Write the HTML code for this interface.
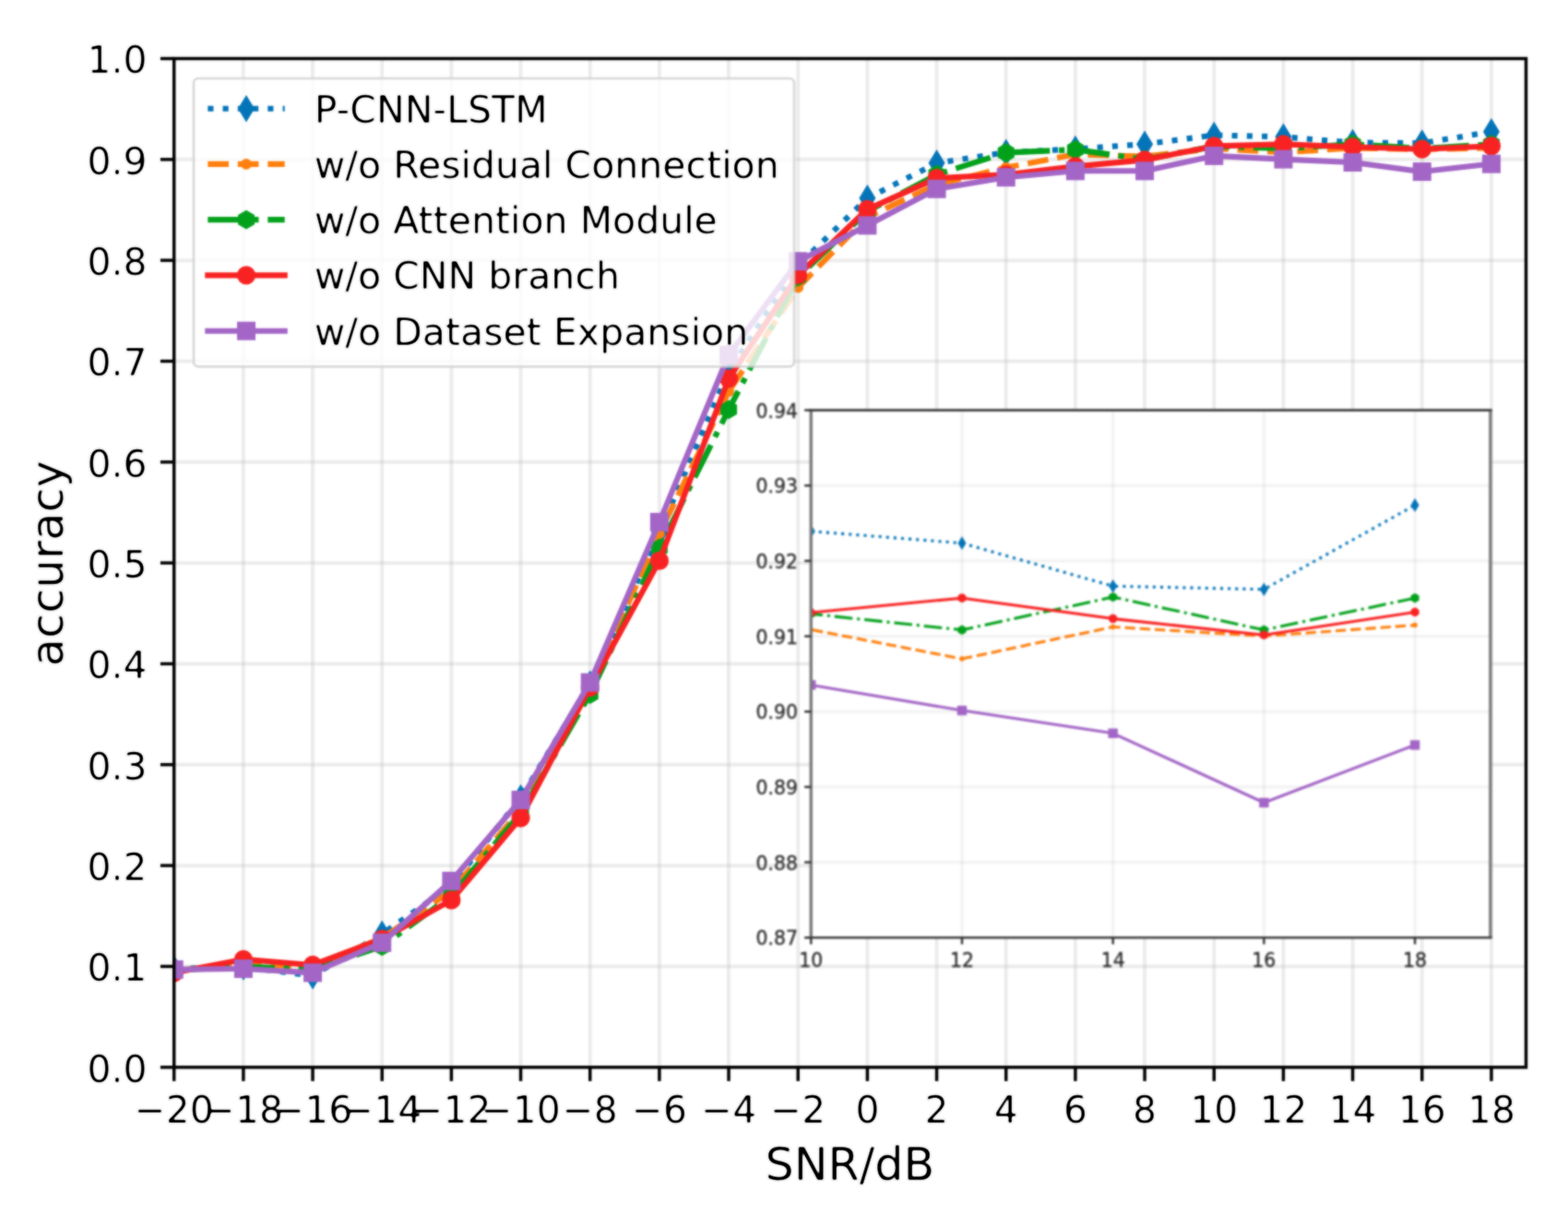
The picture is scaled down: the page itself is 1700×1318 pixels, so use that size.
<!DOCTYPE html>
<html lang="en">
<head>
<meta charset="utf-8">
<title>Accuracy vs SNR</title>
<style>
html,body{margin:0;padding:0;background:#fff;}
body{width:1700px;height:1318px;overflow:hidden;}
svg{display:block;}
text{font-family:"DejaVu Sans","Liberation Sans",sans-serif;}
</style>
</head>
<body>
<svg width="1700" height="1318" viewBox="0 0 1700 1318" font-family="'DejaVu Sans', 'Liberation Sans', sans-serif">
<defs><clipPath id="cm"><rect x="188.7" y="63.5" width="1465.8" height="1093.3"/></clipPath>
<clipPath id="ci"><rect x="879.3" y="444.6" width="736.6" height="571.7"/></clipPath>
<filter id="b1" x="0" y="0" width="1700" height="1318" filterUnits="userSpaceOnUse" color-interpolation-filters="sRGB"><feGaussianBlur in="SourceGraphic" stdDeviation="0.85" result="b"/><feComposite in="b" in2="SourceGraphic" operator="arithmetic" k1="0" k2="0.7" k3="0.3" k4="0"/></filter>
<filter id="b2" x="0" y="0" width="1700" height="1318" filterUnits="userSpaceOnUse" color-interpolation-filters="sRGB"><feGaussianBlur in="SourceGraphic" stdDeviation="0.85" result="b"/><feComposite in="b" in2="SourceGraphic" operator="arithmetic" k1="0" k2="0.92" k3="0.08" k4="0"/></filter>
<filter id="t1" x="0" y="0" width="1700" height="1318" filterUnits="userSpaceOnUse" color-interpolation-filters="sRGB"><feGaussianBlur in="SourceGraphic" stdDeviation="0.9" result="b"/><feComponentTransfer in="b" result="core"><feFuncA type="linear" slope="2.2" intercept="-0.91"/></feComponentTransfer><feComponentTransfer in="b" result="halo"><feFuncA type="linear" slope="0.4" intercept="0"/></feComponentTransfer><feMerge><feMergeNode in="halo"/><feMergeNode in="core"/></feMerge></filter>
<filter id="t2" x="0" y="0" width="1700" height="1318" filterUnits="userSpaceOnUse" color-interpolation-filters="sRGB"><feGaussianBlur stdDeviation="1"/></filter></defs>
<rect width="1700" height="1318" fill="#fff"/>
<g filter="url(#b1)">
<g stroke="#a8a8a8" stroke-opacity="0.215" stroke-width="4" fill="none">
<line x1="263.87" y1="63.5" x2="263.87" y2="1156.8"/>
<line x1="339.04" y1="63.5" x2="339.04" y2="1156.8"/>
<line x1="414.21" y1="63.5" x2="414.21" y2="1156.8"/>
<line x1="489.38" y1="63.5" x2="489.38" y2="1156.8"/>
<line x1="564.55" y1="63.5" x2="564.55" y2="1156.8"/>
<line x1="639.72" y1="63.5" x2="639.72" y2="1156.8"/>
<line x1="714.88" y1="63.5" x2="714.88" y2="1156.8"/>
<line x1="790.05" y1="63.5" x2="790.05" y2="1156.8"/>
<line x1="865.22" y1="63.5" x2="865.22" y2="1156.8"/>
<line x1="940.39" y1="63.5" x2="940.39" y2="1156.8"/>
<line x1="1015.56" y1="63.5" x2="1015.56" y2="1156.8"/>
<line x1="1090.73" y1="63.5" x2="1090.73" y2="1156.8"/>
<line x1="1165.9" y1="63.5" x2="1165.9" y2="1156.8"/>
<line x1="1241.07" y1="63.5" x2="1241.07" y2="1156.8"/>
<line x1="1316.24" y1="63.5" x2="1316.24" y2="1156.8"/>
<line x1="1391.41" y1="63.5" x2="1391.41" y2="1156.8"/>
<line x1="1466.58" y1="63.5" x2="1466.58" y2="1156.8"/>
<line x1="1541.75" y1="63.5" x2="1541.75" y2="1156.8"/>
<line x1="1616.92" y1="63.5" x2="1616.92" y2="1156.8"/>
<line x1="188.7" y1="1047.47" x2="1654.5" y2="1047.47"/>
<line x1="188.7" y1="938.14" x2="1654.5" y2="938.14"/>
<line x1="188.7" y1="828.81" x2="1654.5" y2="828.81"/>
<line x1="188.7" y1="719.48" x2="1654.5" y2="719.48"/>
<line x1="188.7" y1="610.15" x2="1654.5" y2="610.15"/>
<line x1="188.7" y1="500.82" x2="1654.5" y2="500.82"/>
<line x1="188.7" y1="391.49" x2="1654.5" y2="391.49"/>
<line x1="188.7" y1="282.16" x2="1654.5" y2="282.16"/>
<line x1="188.7" y1="172.83" x2="1654.5" y2="172.83"/>
</g>
<g clip-path="url(#cm)">
<g fill="none" stroke="#0474b8" stroke-width="6.13" stroke-dasharray="6.13 10.12">
<line x1="188.7" y1="1049.98" x2="263.87" y2="1047.91" stroke-dashoffset="14.58"/>
<line x1="263.87" y1="1047.91" x2="339.04" y2="1057.64" stroke-dashoffset="8.55"/>
<line x1="339.04" y1="1057.64" x2="414.21" y2="1012.38" stroke-dashoffset="3.11"/>
<line x1="414.21" y1="1012.38" x2="489.38" y2="960.01" stroke-dashoffset="9.63"/>
<line x1="489.38" y1="960.01" x2="564.55" y2="864.89" stroke-dashoffset="3.77"/>
<line x1="564.55" y1="864.89" x2="639.72" y2="741.35" stroke-dashoffset="11.28"/>
<line x1="639.72" y1="741.35" x2="714.88" y2="577.35" stroke-dashoffset="9.68"/>
<line x1="714.88" y1="577.35" x2="790.05" y2="402.42" stroke-dashoffset="15.32"/>
<line x1="790.05" y1="402.42" x2="865.22" y2="287.63" stroke-dashoffset="9.53"/>
<line x1="865.22" y1="287.63" x2="940.39" y2="214.81" stroke-dashoffset="11.09"/>
<line x1="940.39" y1="214.81" x2="1015.56" y2="176.77" stroke-dashoffset="1.06"/>
<line x1="1015.56" y1="176.77" x2="1090.73" y2="165.18" stroke-dashoffset="4.19"/>
<line x1="1090.73" y1="165.18" x2="1165.9" y2="161.46" stroke-dashoffset="14.72"/>
<line x1="1165.9" y1="161.46" x2="1241.07" y2="156.21" stroke-dashoffset="8.7"/>
<line x1="1241.07" y1="156.21" x2="1316.24" y2="146.59" stroke-dashoffset="2.79"/>
<line x1="1316.24" y1="146.59" x2="1391.41" y2="148.34" stroke-dashoffset="13.19"/>
<line x1="1391.41" y1="148.34" x2="1466.58" y2="154.57" stroke-dashoffset="6.98"/>
<line x1="1466.58" y1="154.57" x2="1541.75" y2="155.12" stroke-dashoffset="0.23"/>
<line x1="1541.75" y1="155.12" x2="1616.92" y2="142.87" stroke-dashoffset="10.21"/>
</g>
<polygon points="188.7,1035.18 197.7,1049.98 188.7,1064.78 179.7,1049.98" fill="#0474b8"/>
<polygon points="263.87,1033.11 272.87,1047.91 263.87,1062.71 254.87,1047.91" fill="#0474b8"/>
<polygon points="339.04,1042.84 348.04,1057.64 339.04,1072.44 330.04,1057.64" fill="#0474b8"/>
<polygon points="414.21,997.58 423.21,1012.38 414.21,1027.18 405.21,1012.38" fill="#0474b8"/>
<polygon points="489.38,945.21 498.38,960.01 489.38,974.81 480.38,960.01" fill="#0474b8"/>
<polygon points="564.55,850.09 573.55,864.89 564.55,879.69 555.55,864.89" fill="#0474b8"/>
<polygon points="639.72,726.55 648.72,741.35 639.72,756.15 630.72,741.35" fill="#0474b8"/>
<polygon points="714.88,562.55 723.88,577.35 714.88,592.15 705.88,577.35" fill="#0474b8"/>
<polygon points="790.05,387.62 799.05,402.42 790.05,417.22 781.05,402.42" fill="#0474b8"/>
<polygon points="865.22,272.83 874.22,287.63 865.22,302.43 856.22,287.63" fill="#0474b8"/>
<polygon points="940.39,200.01 949.39,214.81 940.39,229.61 931.39,214.81" fill="#0474b8"/>
<polygon points="1015.56,161.97 1024.56,176.77 1015.56,191.57 1006.56,176.77" fill="#0474b8"/>
<polygon points="1090.73,150.38 1099.73,165.18 1090.73,179.98 1081.73,165.18" fill="#0474b8"/>
<polygon points="1165.9,146.66 1174.9,161.46 1165.9,176.26 1156.9,161.46" fill="#0474b8"/>
<polygon points="1241.07,141.41 1250.07,156.21 1241.07,171.01 1232.07,156.21" fill="#0474b8"/>
<polygon points="1316.24,131.79 1325.24,146.59 1316.24,161.39 1307.24,146.59" fill="#0474b8"/>
<polygon points="1391.41,133.54 1400.41,148.34 1391.41,163.14 1382.41,148.34" fill="#0474b8"/>
<polygon points="1466.58,139.77 1475.58,154.57 1466.58,169.37 1457.58,154.57" fill="#0474b8"/>
<polygon points="1541.75,140.32 1550.75,155.12 1541.75,169.92 1532.75,155.12" fill="#0474b8"/>
<polygon points="1616.92,128.07 1625.92,142.87 1616.92,157.67 1607.92,142.87" fill="#0474b8"/>
<g fill="none" stroke="#ff7f0e" stroke-width="6.13" stroke-dasharray="22.68 9.81">
<line x1="188.7" y1="1051.84" x2="263.87" y2="1045.28" stroke-dashoffset="24.95"/>
<line x1="263.87" y1="1045.28" x2="339.04" y2="1047.47" stroke-dashoffset="2.93"/>
<line x1="339.04" y1="1047.47" x2="414.21" y2="1016.86" stroke-dashoffset="13.15"/>
<line x1="414.21" y1="1016.86" x2="489.38" y2="965.47" stroke-dashoffset="29.33"/>
<line x1="489.38" y1="965.47" x2="564.55" y2="878.01" stroke-dashoffset="22.9"/>
<line x1="564.55" y1="878.01" x2="639.72" y2="746.81" stroke-dashoffset="8.27"/>
<line x1="639.72" y1="746.81" x2="714.88" y2="578.44" stroke-dashoffset="29.5"/>
<line x1="714.88" y1="578.44" x2="790.05" y2="424.29" stroke-dashoffset="18.94"/>
<line x1="790.05" y1="424.29" x2="865.22" y2="311.68" stroke-dashoffset="27.99"/>
<line x1="865.22" y1="311.68" x2="940.39" y2="235.15" stroke-dashoffset="0.92"/>
<line x1="940.39" y1="235.15" x2="1015.56" y2="200.16" stroke-dashoffset="10.72"/>
<line x1="1015.56" y1="200.16" x2="1090.73" y2="181.58" stroke-dashoffset="28.65"/>
<line x1="1090.73" y1="181.58" x2="1165.9" y2="167.36" stroke-dashoffset="8.61"/>
<line x1="1165.9" y1="167.36" x2="1241.07" y2="169.55" stroke-dashoffset="18.96"/>
<line x1="1241.07" y1="169.55" x2="1316.24" y2="160.91" stroke-dashoffset="29.18"/>
<line x1="1316.24" y1="160.91" x2="1391.41" y2="165.18" stroke-dashoffset="7.09"/>
<line x1="1391.41" y1="165.18" x2="1466.58" y2="160.48" stroke-dashoffset="17.47"/>
<line x1="1466.58" y1="160.48" x2="1541.75" y2="161.9" stroke-dashoffset="27.78"/>
<line x1="1541.75" y1="161.9" x2="1616.92" y2="160.26" stroke-dashoffset="5.49"/>
</g>
<circle cx="188.7" cy="1051.84" r="5.9" fill="#ff7f0e"/>
<circle cx="263.87" cy="1045.28" r="5.9" fill="#ff7f0e"/>
<circle cx="339.04" cy="1047.47" r="5.9" fill="#ff7f0e"/>
<circle cx="414.21" cy="1016.86" r="5.9" fill="#ff7f0e"/>
<circle cx="489.38" cy="965.47" r="5.9" fill="#ff7f0e"/>
<circle cx="564.55" cy="878.01" r="5.9" fill="#ff7f0e"/>
<circle cx="639.72" cy="746.81" r="5.9" fill="#ff7f0e"/>
<circle cx="714.88" cy="578.44" r="5.9" fill="#ff7f0e"/>
<circle cx="790.05" cy="424.29" r="5.9" fill="#ff7f0e"/>
<circle cx="865.22" cy="311.68" r="5.9" fill="#ff7f0e"/>
<circle cx="940.39" cy="235.15" r="5.9" fill="#ff7f0e"/>
<circle cx="1015.56" cy="200.16" r="5.9" fill="#ff7f0e"/>
<circle cx="1090.73" cy="181.58" r="5.9" fill="#ff7f0e"/>
<circle cx="1165.9" cy="167.36" r="5.9" fill="#ff7f0e"/>
<circle cx="1241.07" cy="169.55" r="5.9" fill="#ff7f0e"/>
<circle cx="1316.24" cy="160.91" r="5.9" fill="#ff7f0e"/>
<circle cx="1391.41" cy="165.18" r="5.9" fill="#ff7f0e"/>
<circle cx="1466.58" cy="160.48" r="5.9" fill="#ff7f0e"/>
<circle cx="1541.75" cy="161.9" r="5.9" fill="#ff7f0e"/>
<circle cx="1616.92" cy="160.26" r="5.9" fill="#ff7f0e"/>
<g fill="none" stroke="#03a11b" stroke-width="6.13" stroke-dasharray="39.24 9.81 6.13 9.81">
<line x1="188.7" y1="1051.84" x2="263.87" y2="1047.47" stroke-dashoffset="59.89"/>
<line x1="263.87" y1="1047.47" x2="339.04" y2="1050.75" stroke-dashoffset="5.22"/>
<line x1="339.04" y1="1050.75" x2="414.21" y2="1025.6" stroke-dashoffset="15.48"/>
<line x1="414.21" y1="1025.6" x2="489.38" y2="970.94" stroke-dashoffset="29.76"/>
<line x1="489.38" y1="970.94" x2="564.55" y2="881.29" stroke-dashoffset="57.72"/>
<line x1="564.55" y1="881.29" x2="639.72" y2="752.5" stroke-dashoffset="44.75"/>
<line x1="639.72" y1="752.5" x2="714.88" y2="594.08" stroke-dashoffset="63.9"/>
<line x1="714.88" y1="594.08" x2="790.05" y2="443.86" stroke-dashoffset="44.3"/>
<line x1="790.05" y1="443.86" x2="865.22" y2="300.2" stroke-dashoffset="16.78"/>
<line x1="865.22" y1="300.2" x2="940.39" y2="229.13" stroke-dashoffset="48.95"/>
<line x1="940.39" y1="229.13" x2="1015.56" y2="189.23" stroke-dashoffset="23.11"/>
<line x1="1015.56" y1="189.23" x2="1090.73" y2="165.5" stroke-dashoffset="43.24"/>
<line x1="1090.73" y1="165.5" x2="1165.9" y2="162.12" stroke-dashoffset="56.61"/>
<line x1="1165.9" y1="162.12" x2="1241.07" y2="172.83" stroke-dashoffset="1.82"/>
<line x1="1241.07" y1="172.83" x2="1316.24" y2="158.62" stroke-dashoffset="12.76"/>
<line x1="1316.24" y1="158.62" x2="1391.41" y2="161.02" stroke-dashoffset="22.3"/>
<line x1="1391.41" y1="161.02" x2="1466.58" y2="156.21" stroke-dashoffset="32.52"/>
<line x1="1466.58" y1="156.21" x2="1541.75" y2="161.02" stroke-dashoffset="42.86"/>
<line x1="1541.75" y1="161.02" x2="1616.92" y2="156.32" stroke-dashoffset="53.2"/>
</g>
<polygon points="188.7,1041.44 197.71,1046.64 197.71,1057.04 188.7,1062.24 179.69,1057.04 179.69,1046.64" fill="#03a11b"/>
<polygon points="263.87,1037.07 272.88,1042.27 272.88,1052.67 263.87,1057.87 254.86,1052.67 254.86,1042.27" fill="#03a11b"/>
<polygon points="339.04,1040.35 348.05,1045.55 348.05,1055.95 339.04,1061.15 330.03,1055.95 330.03,1045.55" fill="#03a11b"/>
<polygon points="414.21,1015.2 423.21,1020.4 423.21,1030.8 414.21,1036 405.2,1030.8 405.2,1020.4" fill="#03a11b"/>
<polygon points="489.38,960.54 498.38,965.74 498.38,976.14 489.38,981.34 480.37,976.14 480.37,965.74" fill="#03a11b"/>
<polygon points="564.55,870.89 573.55,876.09 573.55,886.49 564.55,891.69 555.54,886.49 555.54,876.09" fill="#03a11b"/>
<polygon points="639.72,742.1 648.72,747.3 648.72,757.7 639.72,762.9 630.71,757.7 630.71,747.3" fill="#03a11b"/>
<polygon points="714.88,583.68 723.89,588.88 723.89,599.28 714.88,604.48 705.88,599.28 705.88,588.88" fill="#03a11b"/>
<polygon points="790.05,433.46 799.06,438.66 799.06,449.06 790.05,454.26 781.05,449.06 781.05,438.66" fill="#03a11b"/>
<polygon points="865.22,289.8 874.23,295 874.23,305.4 865.22,310.6 856.22,305.4 856.22,295" fill="#03a11b"/>
<polygon points="940.39,218.73 949.4,223.93 949.4,234.33 940.39,239.53 931.39,234.33 931.39,223.93" fill="#03a11b"/>
<polygon points="1015.56,178.83 1024.57,184.03 1024.57,194.43 1015.56,199.63 1006.55,194.43 1006.55,184.03" fill="#03a11b"/>
<polygon points="1090.73,155.1 1099.74,160.3 1099.74,170.7 1090.73,175.9 1081.72,170.7 1081.72,160.3" fill="#03a11b"/>
<polygon points="1165.9,151.72 1174.91,156.92 1174.91,167.32 1165.9,172.52 1156.89,167.32 1156.89,156.92" fill="#03a11b"/>
<polygon points="1241.07,162.43 1250.08,167.63 1250.08,178.03 1241.07,183.23 1232.06,178.03 1232.06,167.63" fill="#03a11b"/>
<polygon points="1316.24,148.22 1325.25,153.42 1325.25,163.82 1316.24,169.02 1307.23,163.82 1307.23,153.42" fill="#03a11b"/>
<polygon points="1391.41,150.62 1400.41,155.82 1400.41,166.22 1391.41,171.42 1382.4,166.22 1382.4,155.82" fill="#03a11b"/>
<polygon points="1466.58,145.81 1475.58,151.01 1475.58,161.41 1466.58,166.61 1457.57,161.41 1457.57,151.01" fill="#03a11b"/>
<polygon points="1541.75,150.62 1550.75,155.82 1550.75,166.22 1541.75,171.42 1532.74,166.22 1532.74,155.82" fill="#03a11b"/>
<polygon points="1616.92,145.92 1625.92,151.12 1625.92,161.52 1616.92,166.72 1607.91,161.52 1607.91,151.12" fill="#03a11b"/>
<polyline points="188.7,1054.36 263.87,1039.82 339.04,1045.94 414.21,1017.73 489.38,975.64 564.55,886.54 639.72,745.06 714.88,607.74 790.05,410.29 865.22,298.23 940.39,226.84 1015.56,193.17 1090.73,189.23 1165.9,180.37 1241.07,173.38 1316.24,158.4 1391.41,156.32 1466.58,159.27 1541.75,161.68 1616.92,158.4" fill="none" stroke="#f82222" stroke-width="6.13" stroke-linecap="square" stroke-linejoin="round" />
<circle cx="188.7" cy="1054.36" r="10.1" fill="#f82222"/>
<circle cx="263.87" cy="1039.82" r="10.1" fill="#f82222"/>
<circle cx="339.04" cy="1045.94" r="10.1" fill="#f82222"/>
<circle cx="414.21" cy="1017.73" r="10.1" fill="#f82222"/>
<circle cx="489.38" cy="975.64" r="10.1" fill="#f82222"/>
<circle cx="564.55" cy="886.54" r="10.1" fill="#f82222"/>
<circle cx="639.72" cy="745.06" r="10.1" fill="#f82222"/>
<circle cx="714.88" cy="607.74" r="10.1" fill="#f82222"/>
<circle cx="790.05" cy="410.29" r="10.1" fill="#f82222"/>
<circle cx="865.22" cy="298.23" r="10.1" fill="#f82222"/>
<circle cx="940.39" cy="226.84" r="10.1" fill="#f82222"/>
<circle cx="1015.56" cy="193.17" r="10.1" fill="#f82222"/>
<circle cx="1090.73" cy="189.23" r="10.1" fill="#f82222"/>
<circle cx="1165.9" cy="180.37" r="10.1" fill="#f82222"/>
<circle cx="1241.07" cy="173.38" r="10.1" fill="#f82222"/>
<circle cx="1316.24" cy="158.4" r="10.1" fill="#f82222"/>
<circle cx="1391.41" cy="156.32" r="10.1" fill="#f82222"/>
<circle cx="1466.58" cy="159.27" r="10.1" fill="#f82222"/>
<circle cx="1541.75" cy="161.68" r="10.1" fill="#f82222"/>
<circle cx="1616.92" cy="158.4" r="10.1" fill="#f82222"/>
<polyline points="188.7,1050.86 263.87,1049.98 339.04,1054.36 414.21,1021.78 489.38,954.87 564.55,867.08 639.72,739.71 714.88,565.87 790.05,384.71 865.22,283.25 940.39,244.33 1015.56,204.75 1090.73,192.18 1165.9,185.29 1241.07,185.29 1316.24,168.89 1391.41,172.61 1466.58,176 1541.75,186.06 1616.92,177.64" fill="none" stroke="#a366c6" stroke-width="6.13" stroke-linecap="square" stroke-linejoin="round" />
<rect x="178.7" y="1040.86" width="20" height="20" fill="#a366c6"/>
<rect x="253.87" y="1039.98" width="20" height="20" fill="#a366c6"/>
<rect x="329.04" y="1044.36" width="20" height="20" fill="#a366c6"/>
<rect x="404.21" y="1011.78" width="20" height="20" fill="#a366c6"/>
<rect x="479.38" y="944.87" width="20" height="20" fill="#a366c6"/>
<rect x="554.55" y="857.08" width="20" height="20" fill="#a366c6"/>
<rect x="629.72" y="729.71" width="20" height="20" fill="#a366c6"/>
<rect x="704.88" y="555.87" width="20" height="20" fill="#a366c6"/>
<rect x="780.05" y="374.71" width="20" height="20" fill="#a366c6"/>
<rect x="855.22" y="273.25" width="20" height="20" fill="#a366c6"/>
<rect x="930.39" y="234.33" width="20" height="20" fill="#a366c6"/>
<rect x="1005.56" y="194.75" width="20" height="20" fill="#a366c6"/>
<rect x="1080.73" y="182.18" width="20" height="20" fill="#a366c6"/>
<rect x="1155.9" y="175.29" width="20" height="20" fill="#a366c6"/>
<rect x="1231.07" y="175.29" width="20" height="20" fill="#a366c6"/>
<rect x="1306.24" y="158.89" width="20" height="20" fill="#a366c6"/>
<rect x="1381.41" y="162.61" width="20" height="20" fill="#a366c6"/>
<rect x="1456.58" y="166" width="20" height="20" fill="#a366c6"/>
<rect x="1531.75" y="176.06" width="20" height="20" fill="#a366c6"/>
<rect x="1606.92" y="167.64" width="20" height="20" fill="#a366c6"/>
</g>
<g stroke="#000" stroke-width="3.47" fill="none">
<rect x="188.7" y="63.5" width="1465.8" height="1093.3"/>
<line x1="188.7" y1="1156.8" x2="188.7" y2="1171.8"/>
<line x1="263.87" y1="1156.8" x2="263.87" y2="1171.8"/>
<line x1="339.04" y1="1156.8" x2="339.04" y2="1171.8"/>
<line x1="414.21" y1="1156.8" x2="414.21" y2="1171.8"/>
<line x1="489.38" y1="1156.8" x2="489.38" y2="1171.8"/>
<line x1="564.55" y1="1156.8" x2="564.55" y2="1171.8"/>
<line x1="639.72" y1="1156.8" x2="639.72" y2="1171.8"/>
<line x1="714.88" y1="1156.8" x2="714.88" y2="1171.8"/>
<line x1="790.05" y1="1156.8" x2="790.05" y2="1171.8"/>
<line x1="865.22" y1="1156.8" x2="865.22" y2="1171.8"/>
<line x1="940.39" y1="1156.8" x2="940.39" y2="1171.8"/>
<line x1="1015.56" y1="1156.8" x2="1015.56" y2="1171.8"/>
<line x1="1090.73" y1="1156.8" x2="1090.73" y2="1171.8"/>
<line x1="1165.9" y1="1156.8" x2="1165.9" y2="1171.8"/>
<line x1="1241.07" y1="1156.8" x2="1241.07" y2="1171.8"/>
<line x1="1316.24" y1="1156.8" x2="1316.24" y2="1171.8"/>
<line x1="1391.41" y1="1156.8" x2="1391.41" y2="1171.8"/>
<line x1="1466.58" y1="1156.8" x2="1466.58" y2="1171.8"/>
<line x1="1541.75" y1="1156.8" x2="1541.75" y2="1171.8"/>
<line x1="1616.92" y1="1156.8" x2="1616.92" y2="1171.8"/>
<line x1="173.9" y1="1156.8" x2="188.7" y2="1156.8"/>
<line x1="173.9" y1="1047.47" x2="188.7" y2="1047.47"/>
<line x1="173.9" y1="938.14" x2="188.7" y2="938.14"/>
<line x1="173.9" y1="828.81" x2="188.7" y2="828.81"/>
<line x1="173.9" y1="719.48" x2="188.7" y2="719.48"/>
<line x1="173.9" y1="610.15" x2="188.7" y2="610.15"/>
<line x1="173.9" y1="500.82" x2="188.7" y2="500.82"/>
<line x1="173.9" y1="391.49" x2="188.7" y2="391.49"/>
<line x1="173.9" y1="282.16" x2="188.7" y2="282.16"/>
<line x1="173.9" y1="172.83" x2="188.7" y2="172.83"/>
<line x1="173.9" y1="63.5" x2="188.7" y2="63.5"/>
</g>
<rect x="210" y="85" width="651" height="312.3" rx="5" ry="5" fill="#fff" fill-opacity="0.8" stroke="#cccccc" stroke-opacity="0.75" stroke-width="2.7"/>
<polyline points="225.3,117.7 308.7,117.7" fill="none" stroke="#0474b8" stroke-width="6.13" stroke-dasharray="6.13 10.12" stroke-linejoin="round" />
<polygon points="267,102.9 276,117.7 267,132.5 258,117.7" fill="#0474b8"/>
<polyline points="225.3,177.9 308.7,177.9" fill="none" stroke="#ff7f0e" stroke-width="6.13" stroke-dasharray="22.68 9.81" stroke-linejoin="round" />
<circle cx="267" cy="177.9" r="5.9" fill="#ff7f0e"/>
<polyline points="225.3,238.1 308.7,238.1" fill="none" stroke="#03a11b" stroke-width="6.13" stroke-dasharray="39.24 9.81 6.13 9.81" stroke-linejoin="round" />
<polygon points="267,227.7 276.01,232.9 276.01,243.3 267,248.5 257.99,243.3 257.99,232.9" fill="#03a11b"/>
<polyline points="225.3,298.4 308.7,298.4" fill="none" stroke="#f82222" stroke-width="6.13" stroke-linecap="square" stroke-linejoin="round" />
<circle cx="267" cy="298.4" r="10.1" fill="#f82222"/>
<polyline points="225.3,358.7 308.7,358.7" fill="none" stroke="#a366c6" stroke-width="6.13" stroke-linecap="square" stroke-linejoin="round" />
<rect x="257" y="348.7" width="20" height="20" fill="#a366c6"/>
</g>
<g filter="url(#b2)">
<rect x="879.3" y="444.6" width="736.6" height="571.7" fill="#fff"/>
<g stroke="#a8a8a8" stroke-opacity="0.15" stroke-width="3" fill="none">
<line x1="1042.99" y1="444.6" x2="1042.99" y2="1016.3"/>
<line x1="1206.68" y1="444.6" x2="1206.68" y2="1016.3"/>
<line x1="1370.37" y1="444.6" x2="1370.37" y2="1016.3"/>
<line x1="1534.06" y1="444.6" x2="1534.06" y2="1016.3"/>
<line x1="879.3" y1="934.63" x2="1615.9" y2="934.63"/>
<line x1="879.3" y1="852.96" x2="1615.9" y2="852.96"/>
<line x1="879.3" y1="771.29" x2="1615.9" y2="771.29"/>
<line x1="879.3" y1="689.61" x2="1615.9" y2="689.61"/>
<line x1="879.3" y1="607.94" x2="1615.9" y2="607.94"/>
<line x1="879.3" y1="526.27" x2="1615.9" y2="526.27"/>
</g>
<g clip-path="url(#ci)">
<g fill="none" stroke="#0474b8" stroke-width="3.07" stroke-dasharray="3.07 5.06">
<line x1="879.3" y1="575.8" x2="1042.99" y2="588.7" stroke-dashoffset="7.73"/>
<line x1="1042.99" y1="588.7" x2="1206.68" y2="635.3" stroke-dashoffset="7.86"/>
<line x1="1206.68" y1="635.3" x2="1370.37" y2="638.8" stroke-dashoffset="5.62"/>
<line x1="1370.37" y1="638.8" x2="1534.06" y2="547.5" stroke-dashoffset="4.38"/>
</g>
<polygon points="879.3,568.4 883.8,575.8 879.3,583.2 874.8,575.8" fill="#0474b8"/>
<polygon points="1042.99,581.3 1047.49,588.7 1042.99,596.1 1038.49,588.7" fill="#0474b8"/>
<polygon points="1206.68,627.9 1211.18,635.3 1206.68,642.7 1202.18,635.3" fill="#0474b8"/>
<polygon points="1370.37,631.4 1374.87,638.8 1370.37,646.2 1365.87,638.8" fill="#0474b8"/>
<polygon points="1534.06,540.1 1538.56,547.5 1534.06,554.9 1529.56,547.5" fill="#0474b8"/>
<g fill="none" stroke="#ff7f0e" stroke-width="3.07" stroke-dasharray="11.34 4.9">
<line x1="879.3" y1="682.4" x2="1042.99" y2="714.1" stroke-dashoffset="14.56"/>
<line x1="1042.99" y1="714.1" x2="1206.68" y2="679.5" stroke-dashoffset="0.07"/>
<line x1="1206.68" y1="679.5" x2="1370.37" y2="689.4" stroke-dashoffset="3.36"/>
<line x1="1370.37" y1="689.4" x2="1534.06" y2="677.6" stroke-dashoffset="3.39"/>
</g>
<circle cx="879.3" cy="682.4" r="2.77" fill="#ff7f0e"/>
<circle cx="1042.99" cy="714.1" r="2.77" fill="#ff7f0e"/>
<circle cx="1206.68" cy="679.5" r="2.77" fill="#ff7f0e"/>
<circle cx="1370.37" cy="689.4" r="2.77" fill="#ff7f0e"/>
<circle cx="1534.06" cy="677.6" r="2.77" fill="#ff7f0e"/>
<g fill="none" stroke="#03a11b" stroke-width="3.07" stroke-dasharray="19.62 4.9 3.07 4.9">
<line x1="879.3" y1="665.4" x2="1042.99" y2="682.8" stroke-dashoffset="6.86"/>
<line x1="1042.99" y1="682.8" x2="1206.68" y2="647.1" stroke-dashoffset="7.25"/>
<line x1="1206.68" y1="647.1" x2="1370.37" y2="682.8" stroke-dashoffset="10.66"/>
<line x1="1370.37" y1="682.8" x2="1534.06" y2="648.2" stroke-dashoffset="14.34"/>
</g>
<polygon points="879.3,660.2 883.8,662.8 883.8,668 879.3,670.6 874.8,668 874.8,662.8" fill="#03a11b"/>
<polygon points="1042.99,677.6 1047.49,680.2 1047.49,685.4 1042.99,688 1038.49,685.4 1038.49,680.2" fill="#03a11b"/>
<polygon points="1206.68,641.9 1211.18,644.5 1211.18,649.7 1206.68,652.3 1202.17,649.7 1202.17,644.5" fill="#03a11b"/>
<polygon points="1370.37,677.6 1374.87,680.2 1374.87,685.4 1370.37,688 1365.86,685.4 1365.86,680.2" fill="#03a11b"/>
<polygon points="1534.06,643 1538.56,645.6 1538.56,650.8 1534.06,653.4 1529.55,650.8 1529.55,645.6" fill="#03a11b"/>
<polyline points="879.3,664 1042.99,648.2 1206.68,670.6 1370.37,688.2 1534.06,663.5" fill="none" stroke="#f82222" stroke-width="3.07" stroke-linecap="square" stroke-linejoin="round" />
<circle cx="879.3" cy="664" r="4.75" fill="#f82222"/>
<circle cx="1042.99" cy="648.2" r="4.75" fill="#f82222"/>
<circle cx="1206.68" cy="670.6" r="4.75" fill="#f82222"/>
<circle cx="1370.37" cy="688.2" r="4.75" fill="#f82222"/>
<circle cx="1534.06" cy="663.5" r="4.75" fill="#f82222"/>
<polyline points="879.3,742.4 1042.99,770.1 1206.68,794.8 1370.37,870 1534.06,807.5" fill="none" stroke="#a366c6" stroke-width="3.07" stroke-linecap="square" stroke-linejoin="round" />
<rect x="874.1" y="737.2" width="10.4" height="10.4" fill="#a366c6"/>
<rect x="1037.79" y="764.9" width="10.4" height="10.4" fill="#a366c6"/>
<rect x="1201.48" y="789.6" width="10.4" height="10.4" fill="#a366c6"/>
<rect x="1365.17" y="864.8" width="10.4" height="10.4" fill="#a366c6"/>
<rect x="1528.86" y="802.3" width="10.4" height="10.4" fill="#a366c6"/>
</g>
<g fill="none">
<line x1="879.3" y1="444.6" x2="879.3" y2="1016.3" stroke="#7a7a7a" stroke-width="3.4"/>
<line x1="1615.9" y1="444.6" x2="1615.9" y2="1016.3" stroke="#7a7a7a" stroke-width="3.4"/>
<line x1="877.6" y1="444.6" x2="1617.6" y2="444.6" stroke="#3c3c3c" stroke-width="2.6"/>
<line x1="877.6" y1="1016.3" x2="1617.6" y2="1016.3" stroke="#3c3c3c" stroke-width="2.6"/>
<line x1="879.3" y1="1016.3" x2="879.3" y2="1023.45" stroke="#333" stroke-width="2.4"/>
<line x1="1042.99" y1="1016.3" x2="1042.99" y2="1023.45" stroke="#333" stroke-width="2.4"/>
<line x1="1206.68" y1="1016.3" x2="1206.68" y2="1023.45" stroke="#333" stroke-width="2.4"/>
<line x1="1370.37" y1="1016.3" x2="1370.37" y2="1023.45" stroke="#333" stroke-width="2.4"/>
<line x1="1534.06" y1="1016.3" x2="1534.06" y2="1023.45" stroke="#333" stroke-width="2.4"/>
<line x1="872.15" y1="1016.3" x2="879.3" y2="1016.3" stroke="#333" stroke-width="2.4"/>
<line x1="872.15" y1="934.63" x2="879.3" y2="934.63" stroke="#333" stroke-width="2.4"/>
<line x1="872.15" y1="852.96" x2="879.3" y2="852.96" stroke="#333" stroke-width="2.4"/>
<line x1="872.15" y1="771.29" x2="879.3" y2="771.29" stroke="#333" stroke-width="2.4"/>
<line x1="872.15" y1="689.61" x2="879.3" y2="689.61" stroke="#333" stroke-width="2.4"/>
<line x1="872.15" y1="607.94" x2="879.3" y2="607.94" stroke="#333" stroke-width="2.4"/>
<line x1="872.15" y1="526.27" x2="879.3" y2="526.27" stroke="#333" stroke-width="2.4"/>
<line x1="872.15" y1="444.6" x2="879.3" y2="444.6" stroke="#333" stroke-width="2.4"/>
</g>
</g>
<g filter="url(#t1)">
<g font-size="41.4" fill="#000">
<text x="188.7" y="1217.3" text-anchor="middle" textLength="86.25" lengthAdjust="spacingAndGlyphs">−20</text>
<text x="263.87" y="1217.3" text-anchor="middle" textLength="86.25" lengthAdjust="spacingAndGlyphs">−18</text>
<text x="339.04" y="1217.3" text-anchor="middle" textLength="86.25" lengthAdjust="spacingAndGlyphs">−16</text>
<text x="414.21" y="1217.3" text-anchor="middle" textLength="86.25" lengthAdjust="spacingAndGlyphs">−14</text>
<text x="489.38" y="1217.3" text-anchor="middle" textLength="86.25" lengthAdjust="spacingAndGlyphs">−12</text>
<text x="564.55" y="1217.3" text-anchor="middle" textLength="86.25" lengthAdjust="spacingAndGlyphs">−10</text>
<text x="639.72" y="1217.3" text-anchor="middle" textLength="60.25" lengthAdjust="spacingAndGlyphs">−8</text>
<text x="714.88" y="1217.3" text-anchor="middle" textLength="60.25" lengthAdjust="spacingAndGlyphs">−6</text>
<text x="790.05" y="1217.3" text-anchor="middle" textLength="60.25" lengthAdjust="spacingAndGlyphs">−4</text>
<text x="865.22" y="1217.3" text-anchor="middle" textLength="60.25" lengthAdjust="spacingAndGlyphs">−2</text>
<text x="940.39" y="1217.3" text-anchor="middle" textLength="26" lengthAdjust="spacingAndGlyphs">0</text>
<text x="1015.56" y="1217.3" text-anchor="middle" textLength="26" lengthAdjust="spacingAndGlyphs">2</text>
<text x="1090.73" y="1217.3" text-anchor="middle" textLength="26" lengthAdjust="spacingAndGlyphs">4</text>
<text x="1165.9" y="1217.3" text-anchor="middle" textLength="26" lengthAdjust="spacingAndGlyphs">6</text>
<text x="1241.07" y="1217.3" text-anchor="middle" textLength="26" lengthAdjust="spacingAndGlyphs">8</text>
<text x="1316.24" y="1217.3" text-anchor="middle" textLength="52.01" lengthAdjust="spacingAndGlyphs">10</text>
<text x="1391.41" y="1217.3" text-anchor="middle" textLength="52.01" lengthAdjust="spacingAndGlyphs">12</text>
<text x="1466.58" y="1217.3" text-anchor="middle" textLength="52.01" lengthAdjust="spacingAndGlyphs">14</text>
<text x="1541.75" y="1217.3" text-anchor="middle" textLength="52.01" lengthAdjust="spacingAndGlyphs">16</text>
<text x="1616.92" y="1217.3" text-anchor="middle" textLength="52.01" lengthAdjust="spacingAndGlyphs">18</text>
<text x="159.6" y="1172.6" text-anchor="end" textLength="65" lengthAdjust="spacingAndGlyphs">0.0</text>
<text x="159.6" y="1063.27" text-anchor="end" textLength="65" lengthAdjust="spacingAndGlyphs">0.1</text>
<text x="159.6" y="953.94" text-anchor="end" textLength="65" lengthAdjust="spacingAndGlyphs">0.2</text>
<text x="159.6" y="844.61" text-anchor="end" textLength="65" lengthAdjust="spacingAndGlyphs">0.3</text>
<text x="159.6" y="735.28" text-anchor="end" textLength="65" lengthAdjust="spacingAndGlyphs">0.4</text>
<text x="159.6" y="625.95" text-anchor="end" textLength="65" lengthAdjust="spacingAndGlyphs">0.5</text>
<text x="159.6" y="516.62" text-anchor="end" textLength="65" lengthAdjust="spacingAndGlyphs">0.6</text>
<text x="159.6" y="407.29" text-anchor="end" textLength="65" lengthAdjust="spacingAndGlyphs">0.7</text>
<text x="159.6" y="297.96" text-anchor="end" textLength="65" lengthAdjust="spacingAndGlyphs">0.8</text>
<text x="159.6" y="188.63" text-anchor="end" textLength="65" lengthAdjust="spacingAndGlyphs">0.9</text>
<text x="159.6" y="79.3" text-anchor="end" textLength="65" lengthAdjust="spacingAndGlyphs">1.0</text>
</g>
<text x="921.4" y="1279.2" font-size="50" text-anchor="middle" fill="#000" textLength="183.78" lengthAdjust="spacingAndGlyphs">SNR/dB</text>
<text transform="translate(68.3,610.65) rotate(-90)" font-size="50" text-anchor="middle" fill="#000" textLength="223.33" lengthAdjust="spacingAndGlyphs">accuracy</text>
<text x="340.7" y="132.6" font-size="41.4" fill="#000" textLength="252.87" lengthAdjust="spacingAndGlyphs">P-CNN-LSTM</text>
<text x="340.7" y="192.8" font-size="41.4" fill="#000" textLength="504.05" lengthAdjust="spacingAndGlyphs">w/o Residual Connection</text>
<text x="340.7" y="253" font-size="41.4" fill="#000" textLength="437.16" lengthAdjust="spacingAndGlyphs">w/o Attention Module</text>
<text x="340.7" y="313.3" font-size="41.4" fill="#000" textLength="331.26" lengthAdjust="spacingAndGlyphs">w/o CNN branch</text>
<text x="340.7" y="373.6" font-size="41.4" fill="#000" textLength="470.56" lengthAdjust="spacingAndGlyphs">w/o Dataset Expansion</text>
</g>
<g filter="url(#t2)">
<g font-size="20.43" fill="#2a2a2a" stroke="#2a2a2a" stroke-width="0.3">
<text x="879.3" y="1047.5" text-anchor="middle">10</text>
<text x="1042.99" y="1047.5" text-anchor="middle">12</text>
<text x="1206.68" y="1047.5" text-anchor="middle">14</text>
<text x="1370.37" y="1047.5" text-anchor="middle">16</text>
<text x="1534.06" y="1047.5" text-anchor="middle">18</text>
<text x="864.9" y="1024.3" text-anchor="end">0.87</text>
<text x="864.9" y="942.63" text-anchor="end">0.88</text>
<text x="864.9" y="860.96" text-anchor="end">0.89</text>
<text x="864.9" y="779.29" text-anchor="end">0.90</text>
<text x="864.9" y="697.61" text-anchor="end">0.91</text>
<text x="864.9" y="615.94" text-anchor="end">0.92</text>
<text x="864.9" y="534.27" text-anchor="end">0.93</text>
<text x="864.9" y="452.6" text-anchor="end">0.94</text>
</g>
</g>
</svg>
</body>
</html>
